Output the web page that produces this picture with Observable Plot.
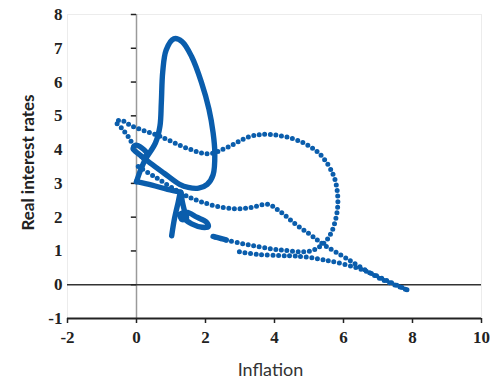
<!DOCTYPE html>
<html><head><meta charset="utf-8">
<script src="https://cdn.jsdelivr.net/npm/d3@7"></script>
<script src="https://cdn.jsdelivr.net/npm/@observablehq/plot@0.6"></script>
<style>body{margin:0;background:#fff} svg{display:block}</style>
</head><body><div id="chart"></div>
<script>
// Axis ticks
const xTicks = [-2, 0, 2, 4, 6, 8, 10];
const yTicks = [-1, 0, 1, 2, 3, 4, 5, 6, 7, 8];

// Trajectory strands: [inflation, real interest rate]
// Dense stretches (dots merge into a solid line)
const tallLoop = [[0.0,3.05],[0.12,3.4],[0.25,3.7],[0.55,4.2],[0.68,4.7],[0.72,5.4],[0.76,6.3],[0.86,6.95],[1.08,7.28],[1.32,7.2],[1.6,6.75],[1.88,6.0],[2.1,5.2],[2.22,4.5],[2.27,3.9],[2.22,3.25],[2.05,2.97],[1.8,2.86],[1.5,2.88],[1.25,2.97],[0.8,3.3],[0.4,3.6],[0.15,3.8]];
const cornerLink = [[0.0,3.05],[0.45,2.95],[0.9,2.82],[1.28,2.74]];
const smallLoop = [[0.15,3.8],[0.0,3.92],[-0.1,4.03],[-0.02,4.13],[0.15,4.05],[0.3,3.88],[0.22,3.72]];
const aFrame = [[1.02,1.45],[1.1,1.95],[1.2,2.4],[1.28,2.74],[1.33,2.45],[1.4,2.15],[1.45,1.97],[1.32,1.93],[1.27,2.08],[1.45,2.15],[1.75,2.0],[2.02,1.86],[2.08,1.72],[1.9,1.7],[1.6,1.8],[1.35,1.98]];
const blobStart = [[2.22,1.43],[2.6,1.33]];
// Sparse stretches (separate dots)
const upperArc = [[-0.08,4.1],[-0.25,4.4],[-0.45,4.66],[-0.6,4.82],[-0.45,4.87],[-0.1,4.68],[0.62,4.42],[1.49,4.03],[2.1,3.88],[2.6,4.05],[3.3,4.39],[3.88,4.45],[4.75,4.24],[5.33,3.85],[5.7,3.26],[5.82,2.76],[5.82,2.2],[5.65,1.55],[5.42,1.22],[5.04,1.0],[4.17,1.03],[3.3,1.17],[2.6,1.32],[2.24,1.42]];
const bumpLine = [[0.05,3.5],[0.6,3.15],[1.14,2.8],[1.5,2.6],[1.86,2.46],[2.3,2.33],[2.82,2.25],[3.3,2.28],[3.8,2.38],[4.17,2.16],[4.6,1.8],[5.04,1.48],[5.42,1.19],[6.1,0.77],[7.07,0.18],[7.84,-0.15]];
const returnLine = [[7.84,-0.15],[7.3,0.1],[6.48,0.47],[5.42,0.74],[4.6,0.85],[4.17,0.86],[3.5,0.9],[2.96,0.98]];

const denseStrands = {tallLoop, cornerLink, smallLoop, aFrame, blobStart};
const sparseStrands = {upperArc, bumpLine, returnLine};
const toRows = obj => Object.entries(obj).flatMap(([seg, pts]) => pts.map(([x, y]) => ({seg, x, y})));
const dense = toRows(denseStrands);
const sparse = toRows(sparseStrands);

const blue = "#0a5dac";
const fmt = d => String(d);
const tickFont = {fontFamily: "Liberation Serif", fontWeight: "bold", fontSize: 17, fill: "#222"};

const plot = Plot.plot({
  width: 500, height: 379,
  marginLeft: 67, marginRight: 19, marginTop: 14, marginBottom: 61,
  x: {domain: [-2, 10]},
  y: {domain: [-1, 8], axis: null},
  style: {fontFamily: "Liberation Serif", background: "white", color: "#222"},
  marks: [
    Plot.frame({stroke: "#ececec"}),
    Plot.ruleX([0], {stroke: "#9a9a9a", strokeWidth: 1.5}),
    Plot.ruleY([0], {stroke: "#333", strokeWidth: 1.5}),
    Plot.ruleY(yTicks.filter(d => d > -1), {y: d => d, x1: -0.15, x2: 0, stroke: "#222", strokeWidth: 1.5}),
    Plot.ruleY([-1], {stroke: "#222", strokeWidth: 2}),
    Plot.axisX(xTicks, {tickSize: 5, tickFormat: () => "", label: null, stroke: "#222", strokeWidth: 1.5}),
    Plot.text(xTicks, {x: d => d, frameAnchor: "bottom", lineAnchor: "top", dy: 12, text: fmt, ...tickFont}),
    Plot.text(yTicks, {y: d => d, frameAnchor: "left", textAnchor: "end", lineAnchor: "middle", dx: -5, text: fmt, ...tickFont}),
    Plot.line(sparse, {x: "x", y: "y", z: "seg", curve: "catmull-rom", stroke: blue, strokeWidth: 5, strokeDasharray: "0 5.6", strokeLinecap: "round"}),
    Plot.line(dense, {x: "x", y: "y", z: "seg", curve: "catmull-rom", stroke: blue, strokeWidth: 5.4, strokeLinecap: "round", strokeLinejoin: "round"}),
    Plot.text(["Real interest rates"], {frameAnchor: "left", dx: -39, dy: -4, rotate: -90, textAnchor: "middle", lineAnchor: "middle", fontFamily: "Lato", fontWeight: "bold", fontSize: 17, fill: "#222"}),
    Plot.text(["Inflation"], {frameAnchor: "bottom", dx: -4, dy: 52, textAnchor: "middle", lineAnchor: "middle", fontFamily: "Lato", fontWeight: "normal", fontSize: 18, fill: "#333"})
  ]
});
document.getElementById("chart").append(plot);
</script>
</body></html>
